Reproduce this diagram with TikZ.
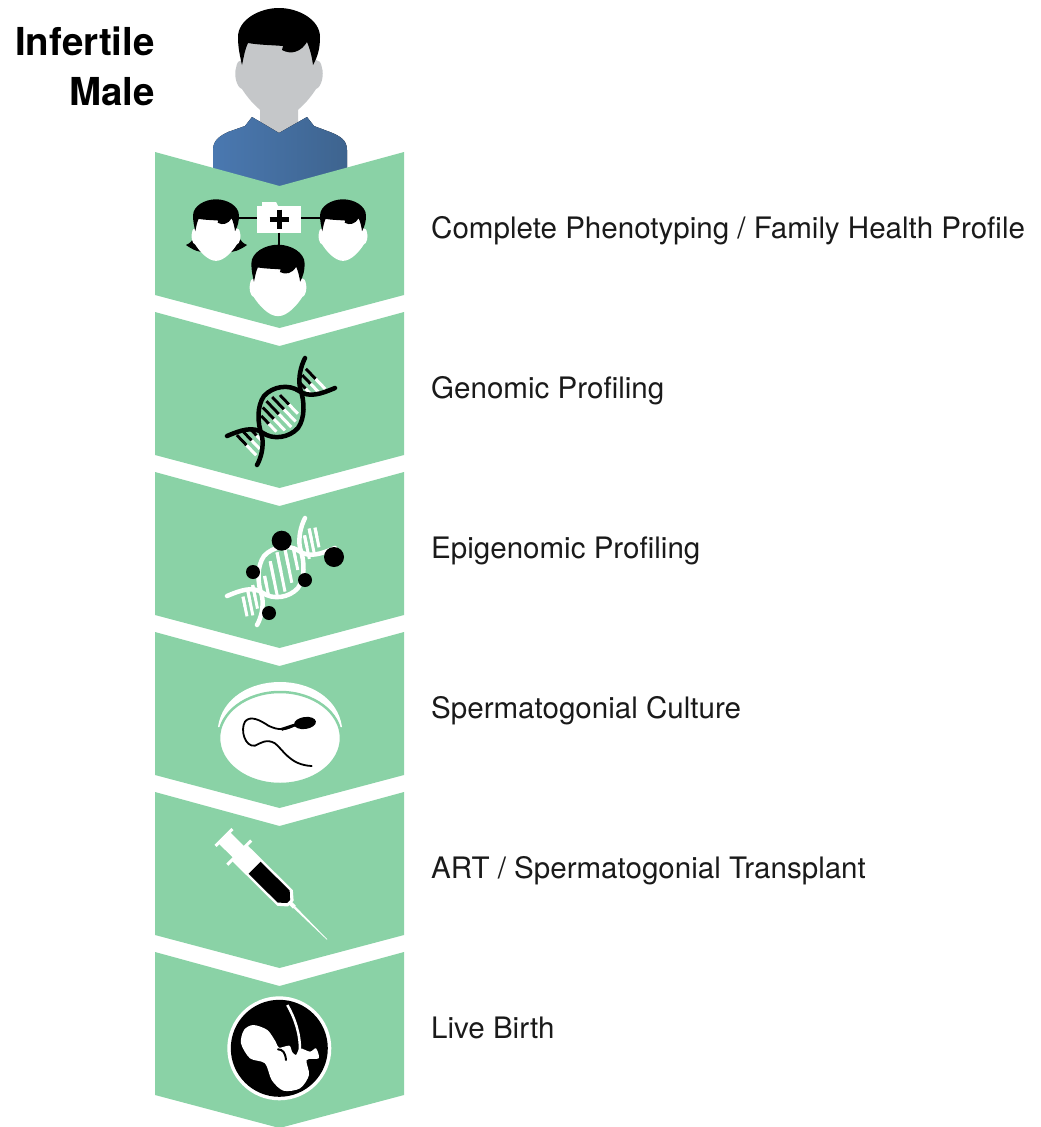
\documentclass[tikz,border=0pt]{standalone}
\usepackage{fontspec}
\setmainfont{TeX Gyre Heros}
\usetikzlibrary{positioning,calc}
\definecolor{chev}{HTML}{8AD2A6}
\definecolor{skin}{HTML}{C5C7C9}
\definecolor{shirtl}{HTML}{4A78B0}
\definecolor{shirtr}{HTML}{3E648F}
\definecolor{ink}{HTML}{1A1A1A}
% head with hair: x, y, scale, face colour
\newcommand{\facehead}[4]{%
  \begin{scope}[shift={(#1,#2)},scale=#3]
  \fill[#4] (0,48) .. controls (-15,48) and (-30,30) .. (-37,19)
    .. controls (-43,17) and (-45,4) .. (-43,-2) .. controls (-42,-8) and (-40,-10) .. (-37,-10) -- (-34,-38) -- (34,-38)
    -- (37,-10) .. controls (40,-10) and (42,-8) .. (43,-2) .. controls (45,4) and (43,17) .. (37,19)
    .. controls (30,30) and (15,48) .. (0,48) -- cycle;
  \fill[black] (0,-62) .. controls (-20,-62) and (-41,-50) .. (-41,-33) .. controls (-41,-22) and (-39,-14) .. (-37,-5)
    .. controls (-35,-14) and (-34,-21) .. (-31,-27) .. controls (-20,-25) and (-8,-25) .. (4,-24) -- (3,-20)
    .. controls (12,-15) and (22,-18) .. (28,-28) .. controls (31,-21) and (33,-13) .. (34,-5)
    .. controls (39,-14) and (41,-22) .. (41,-33) .. controls (41,-50) and (20,-62) .. (0,-62) -- cycle;
  \end{scope}}
% helix: centre y, strand colour, colour of the upper rung half, rung direction, rungs
\newcommand{\helix}[6]{%
  \begin{scope}[shift={(281,#1)}]
  \foreach \t/\h in {#6}{
    \draw[white,line width=3pt] ({\t*0.72-\h*#4},{-\t*0.69-\h*#5}) -- ({\t*0.72+\h*#4},{-\t*0.69+\h*#5});
    \draw[#3,line width=3pt] ({\t*0.72-\h*#4},{-\t*0.69-\h*#5}) -- (\t*0.72,-\t*0.69);
  }
  \draw[#2,line width=4.5pt,line cap=round] (-54,24) .. controls (-40,18) and (-28,14) .. (-18,21) .. controls (-8,28) and (8,26) .. (17,16)
    .. controls (24,6) and (24,-10) .. (19,-24) .. controls (17,-35) and (20,-46) .. (24,-54);
  \draw[#2,line width=4.5pt,line cap=round] (-24,53) .. controls (-20,46) and (-17,35) .. (-19,24) .. controls (-24,10) and (-24,-6) .. (-17,-16)
    .. controls (-8,-26) and (8,-28) .. (18,-21) .. controls (28,-14) and (40,-18) .. (54,-24);
  \end{scope}}
\begin{document}
\begin{tikzpicture}[x=1pt,y=-1pt,
  label/.style={anchor=base west,inner sep=0pt,text=ink,font=\fontsize{29.55}{35}\selectfont},
  title/.style={anchor=base east,inner sep=0pt,text=black,font=\fontsize{38.5}{44}\selectfont\bfseries},
  wire/.style={black,line width=2pt},
  kit/.style={fill=white,inner sep=0pt,minimum width=44pt,minimum height=27pt}]
\useasboundingbox (0,0) rectangle (1041,1127);
% person
\fill[skin] (260,100) -- (260,128) -- (279,140) -- (298,128) -- (298,100) -- cycle;
\facehead{279}{70}{1}{skin}
\fill[left color=shirtl,right color=shirtr] (213,190) -- (213,150) .. controls (213,140) and (220,136) .. (228,132) -- (245,126) -- (252,117) -- (279,133) -- (307,117) -- (314,126) -- (330,132)
  .. controls (340,136) and (347,140) .. (347,150) -- (347,190) -- cycle;
\node[title] (infertile) at (155,55) {Infertile};
\node[title] (male) at (155,105) {Male};
% chevrons and their labels
\foreach \i/\lab in {0/{Complete Phenotyping / Family Health Profile},1/{Genomic Profiling},2/{Epigenomic Profiling},3/{Spermatogonial Culture},4/{ART / Spermatogonial Transplant},5/{Live Birth}}{
  \pgfmathsetmacro{\y}{152+160*\i}
  \fill[chev] (155,\y) -- (279.5,\y+34) -- (404,\y) -- (404,\y+143) -- (279.5,\y+176) -- (155,\y+143) -- cycle;
  \node[label] (lab\i) at (431,\y+86) {\lab};
}
% family
\node[kit] (folder) at (279,219) {};
\fill[white] (262,202) -- (276,202) -- (278,206) -- (262,206) -- cycle;
\coordinate (mum) at (236,218);
\coordinate (dad) at (322,218);
\coordinate (son) at (279,248);
\draw[wire] (folder.west |- mum) -- (mum);
\draw[wire] (folder.east |- dad) -- (dad);
\draw[wire] (folder.south -| son) -- (son);
\draw[black,line width=5pt] (269.5,219) -- (288.5,219);
\draw[black,line width=5pt] (279,209.5) -- (279,228.5);
\fill[black] (197,226) .. controls (196,236) and (193,242) .. (186,245) .. controls (193,250) and (200,253) .. (206,252) -- (226,252)
  .. controls (233,253) and (240,250) .. (247,245) .. controls (240,242) and (237,236) .. (236,226) -- cycle;
\facehead{216}{234}{.56}{white}
\facehead{343}{234}{.56}{white}
\facehead{278}{285}{.65}{white}
% helices
\helix{412}{black}{black}{0.69}{0.72}{-48/14,-41/12,-34/8,-17/11,-10/16,-3/18,4/17,11/13,34/8,41/12,48/14}
\helix{572}{white}{white}{0.2}{0.98}{-50/10,-43/14,-36/12,-20/10,-10/18,0/20,10/18,20/12,36/12,43/14,50/10}
\foreach \px/\py/\pr in {281.7/540.7/10,334/557/10,253/572/7,305/580/7,269/613/7}
  \fill[black] (\px,\py) circle (\pr);
% culture dish
\fill[white] (218,727) .. controls (222,698) and (250,682) .. (280,682) .. controls (310,682) and (338,698) .. (342,727) -- cycle;
\draw[chev,fill=white,line width=2.5pt] (280,738) ellipse [x radius=61,y radius=46];
\fill[black,rotate around={8:(305,723)}] (305,723) ellipse [x radius=11,y radius=6];
\begin{scope}[shift={(150,660)},scale=1/3]
\draw[black,line width=3pt] (395,208) -- (435,195);
\draw[black,line width=1.8pt,line cap=round] (430,197) .. controls (410,210) and (385,212) .. (355,197) .. controls (330,180) and (300,165) .. (285,185)
  .. controls (270,210) and (285,262) .. (315,257) .. controls (330,250) and (350,235) .. (375,250) .. controls (400,270) and (420,315) .. (485,318);
\end{scope}
% syringe
\begin{scope}[shift={(224,837.5)},rotate=-44.7]
\fill[white] (-1.5,-12) rectangle (1.5,12);
\fill[white] (0,-8) rectangle (22,8);
\fill[white] (20,-17) rectangle (23,17);
\fill[white] (21,-11) -- (86,-11) -- (94,-4) -- (94,-2) -- (99,-2) -- (99,2) -- (94,2) -- (94,4) -- (86,11) -- (21,11) -- cycle;
\fill[black] (43,-8.5) -- (84,-8.5) -- (91,-2) -- (91,2) -- (84,8.5) -- (43,8.5) -- cycle;
\fill[white] (99,-1.2) -- (145,-.3) -- (145,.3) -- (99,1.2) -- cycle;
\end{scope}
% fetus
\fill[white] (279.3,1048.3) circle (52);
\fill[black] (279.3,1048.3) circle (48.5);
\begin{scope}[shift={(210,980)},scale=1/3]
\fill[white] plot[smooth cycle,tension=.5] coordinates {(130,135) (172,150) (197,185) (207,203) (238,197) (246,215) (258,225) (270,205) (300,215) (318,205) (326,235) (290,240) (297,285) (270,325) (220,332) (185,300) (165,250) (120,235) (93,190) (102,150)};
\draw[black,line width=2pt,line cap=round] (204,208) .. controls (218,208) and (226,218) .. (228,240);
\draw[white,line width=2.5pt] (232,75) .. controls (255,115) and (270,160) .. (270,210);
\end{scope}
\end{tikzpicture}
\end{document}
